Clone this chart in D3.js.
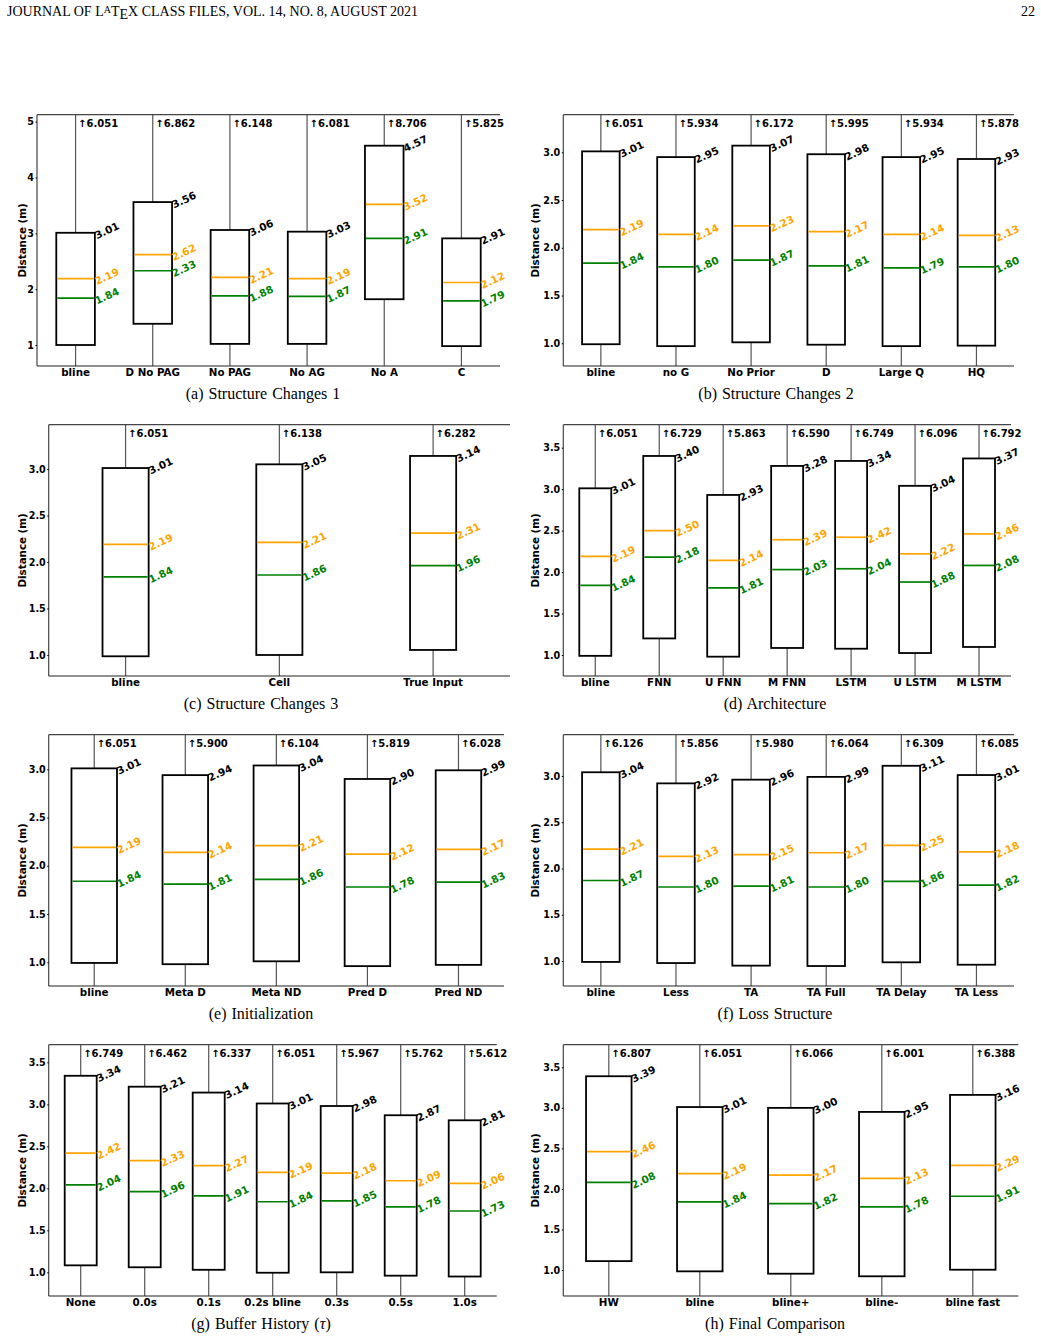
<!DOCTYPE html>
<html>
<head>
<meta charset="utf-8">
<title>Distance box plots</title>
<style>
  body { margin: 0; background: #fff; }
  svg text { font-family: "DejaVu Sans", sans-serif; }
  .cap, .hdr { font-family: "Liberation Serif", "Times New Roman", serif; }
</style>
</head>
<body>
<script src="https://d3js.org/d3.v7.min.js"></script>
<script>
// ---- data ----
// orange line = mean, green line = median, q3 = box top, q1 = box bottom, max = upper whisker
const aLabels = ["bline", "D No PAG", "No PAG", "No AG", "No A", "C"];
const aQ1     = [1.00, 1.38, 1.02, 1.02, 1.82, 0.98];
const aQ3     = [3.01, 3.56, 3.06, 3.03, 4.57, 2.91];
const aMean   = [2.19, 2.62, 2.21, 2.19, 3.52, 2.12];
const aMedian = [1.84, 2.33, 1.88, 1.87, 2.91, 1.79];
const aMax    = [6.051, 6.862, 6.148, 6.081, 8.706, 5.825];

const bLabels = ["bline", "no G", "No Prior", "D", "Large Q", "HQ"];
const bQ1     = [0.99, 0.97, 1.01, 0.985, 0.97, 0.975];
const bQ3     = [3.01, 2.95, 3.07, 2.98, 2.95, 2.93];
const bMean   = [2.19, 2.14, 2.23, 2.17, 2.14, 2.13];
const bMedian = [1.84, 1.80, 1.87, 1.81, 1.79, 1.80];
const bMax    = [6.051, 5.934, 6.172, 5.995, 5.934, 5.878];

const cLabels = ["bline", "Cell", "True Input"];
const cQ1     = [0.986, 1.00, 1.054];
const cQ3     = [3.01, 3.05, 3.14];
const cMean   = [2.19, 2.21, 2.31];
const cMedian = [1.84, 1.86, 1.96];
const cMax    = [6.051, 6.138, 6.282];

const dLabels = ["bline", "FNN", "U FNN", "M FNN", "LSTM", "U LSTM", "M LSTM"];
const dQ1     = [0.99, 1.20, 0.98, 1.085, 1.076, 1.024, 1.097];
const dQ3     = [3.01, 3.40, 2.93, 3.28, 3.34, 3.04, 3.37];
const dMean   = [2.19, 2.50, 2.14, 2.39, 2.42, 2.22, 2.46];
const dMedian = [1.84, 2.18, 1.81, 2.03, 2.04, 1.88, 2.08];
const dMax    = [6.051, 6.729, 5.863, 6.590, 6.749, 6.096, 6.792];

const eLabels = ["bline", "Meta D", "Meta ND", "Pred D", "Pred ND"];
const eQ1     = [0.993, 0.98, 1.01, 0.96, 0.973];
const eQ3     = [3.01, 2.94, 3.04, 2.90, 2.99];
const eMean   = [2.19, 2.14, 2.21, 2.12, 2.17];
const eMedian = [1.84, 1.81, 1.86, 1.78, 1.83];
const eMax    = [6.051, 5.900, 6.104, 5.819, 6.028];

const fLabels = ["bline", "Less", "TA", "TA Full", "TA Delay", "TA Less"];
const fQ1     = [0.99, 0.978, 0.95, 0.946, 0.986, 0.96];
const fQ3     = [3.04, 2.92, 2.96, 2.99, 3.11, 3.01];
const fMean   = [2.21, 2.13, 2.15, 2.17, 2.25, 2.18];
const fMedian = [1.87, 1.80, 1.81, 1.80, 1.86, 1.82];
const fMax    = [6.126, 5.856, 5.980, 6.064, 6.309, 6.085];

const gLabels = ["None", "0.0s", "0.1s", "0.2s bline", "0.3s", "0.5s", "1.0s"];
const gQ1     = [1.083, 1.06, 1.03, 0.995, 1.00, 0.96, 0.95];
const gQ3     = [3.34, 3.21, 3.14, 3.01, 2.98, 2.87, 2.81];
const gMean   = [2.42, 2.33, 2.27, 2.19, 2.18, 2.09, 2.06];
const gMedian = [2.04, 1.96, 1.91, 1.84, 1.85, 1.78, 1.73];
const gMax    = [6.749, 6.462, 6.337, 6.051, 5.967, 5.762, 5.612];

const hLabels = ["HW", "bline", "bline+", "bline-", "bline fast"];
const hQ1     = [1.11, 0.984, 0.955, 0.923, 1.004];
const hQ3     = [3.39, 3.01, 3.00, 2.95, 3.16];
const hMean   = [2.46, 2.19, 2.17, 2.13, 2.29];
const hMedian = [2.08, 1.84, 1.82, 1.78, 1.91];
const hMax    = [6.807, 6.051, 6.066, 6.001, 6.388];

const ticksInt  = [1, 2, 3, 4, 5];
const ticks30   = [1.0, 1.5, 2.0, 2.5, 3.0];
const ticks35   = [1.0, 1.5, 2.0, 2.5, 3.0, 3.5];

const captions = ["(a) Structure Changes 1", "(b) Structure Changes 2", "(c) Structure Changes 3",
  "(d) Architecture", "(e) Initialization", "(f) Loss Structure", "(g) Buffer History (", "(h) Final Comparison"];

// ---- layout ----
const W = 1041, H = 1339;
const svg = d3.select("body").append("svg").attr("width", W).attr("height", H);

// header
const hdr = svg.append("text").attr("class", "hdr").attr("x", 7).attr("y", 16).style("font-size", "14px");
hdr.append("tspan").text("JOURNAL OF L");
hdr.append("tspan").attr("dy", -3).style("font-size", "10px").text("A");
hdr.append("tspan").attr("dy", 3).text("T");
hdr.append("tspan").attr("dy", 3).text("E");
hdr.append("tspan").attr("dy", -3).text("X CLASS FILES, VOL. 14, NO. 8, AUGUST 2021");
svg.append("text").attr("class", "hdr").attr("x", 1035).attr("y", 16)
  .attr("text-anchor", "end").style("font-size", "14px").text("22");

const rows = [{top: 114.7, bottom: 366}, {top: 424.7, bottom: 676}, {top: 734.7, bottom: 986}, {top: 1044.7, bottom: 1296}];

const panels = [
  {labels: aLabels, q1: aQ1, q3: aQ3, mean: aMean, median: aMedian, max: aMax, row: 0, left: 37,    right: 500,    dom: [0.624, 5.125], ticks: ticksInt, fmt: d3.format("d"),   capX: 263},
  {labels: bLabels, q1: bQ1, q3: bQ3, mean: bMean, median: bMedian, max: bMax, row: 0, left: 563.3, right: 1014,   dom: [0.762, 3.394], ticks: ticks30,  fmt: d3.format(".1f"), capX: 776},
  {labels: cLabels, q1: cQ1, q3: cQ3, mean: cMean, median: cMedian, max: cMax, row: 1, left: 48.7,  right: 510,    dom: [0.774, 3.476], ticks: ticks30,  fmt: d3.format(".1f"), capX: 261},
  {labels: dLabels, q1: dQ1, q3: dQ3, mean: dMean, median: dMedian, max: dMax, row: 1, left: 563.3, right: 1011,   dom: [0.747, 3.777], ticks: ticks35,  fmt: d3.format(".1f"), capX: 775},
  {labels: eLabels, q1: eQ1, q3: eQ3, mean: eMean, median: eMedian, max: eMax, row: 2, left: 48.7,  right: 504,    dom: [0.754, 3.359], ticks: ticks30,  fmt: d3.format(".1f"), capX: 261},
  {labels: fLabels, q1: fQ1, q3: fQ3, mean: fMean, median: fMedian, max: fMax, row: 2, left: 563.3, right: 1014,   dom: [0.730, 3.446], ticks: ticks30,  fmt: d3.format(".1f"), capX: 775},
  {labels: gLabels, q1: gQ1, q3: gQ3, mean: gMean, median: gMedian, max: gMax, row: 3, left: 48.7,  right: 496.7,  dom: [0.718, 3.710], ticks: ticks35,  fmt: d3.format(".1f"), capX: 261},
  {labels: hLabels, q1: hQ1, q3: hQ3, mean: hMean, median: hMedian, max: hMax, row: 3, left: 563.3, right: 1018.3, dom: [0.680, 3.779], ticks: ticks35,  fmt: d3.format(".1f"), capX: 775}
];

const ORANGE = "#ffa500", GREEN = "#008000";

panels.forEach(function (p, i) {
  const top = rows[p.row].top, bottom = rows[p.row].bottom;
  const g = svg.append("g");

  const x = d3.scaleBand().domain(p.labels).range([p.left, p.right]);
  const y = d3.scaleLinear().domain(p.dom).range([bottom, top]);
  const n = p.labels.length;
  const bw = x.step() * Math.max(0.15, Math.min(0.5, 0.15 * (n - 1)));
  const cx = d => x(d) + x.bandwidth() / 2;

  const clipId = "clip" + i;
  svg.append("clipPath").attr("id", clipId).append("rect")
    .attr("x", p.left).attr("y", top).attr("width", p.right - p.left).attr("height", bottom - top);

  const rowsData = p.labels.map((l, k) => ({l: l, q1: p.q1[k], q3: p.q3[k], mean: p.mean[k], med: p.median[k], max: p.max[k]}));

  const plot = g.append("g").attr("clip-path", "url(#" + clipId + ")");

  // whiskers
  plot.selectAll(".wh-up").data(rowsData).join("line")
    .attr("x1", d => cx(d.l)).attr("x2", d => cx(d.l))
    .attr("y1", d => y(d.q3)).attr("y2", d => y(d.max))
    .attr("stroke", "#555").attr("stroke-width", 1.2);
  plot.selectAll(".wh-dn").data(rowsData).join("line")
    .attr("x1", d => cx(d.l)).attr("x2", d => cx(d.l))
    .attr("y1", d => y(d.q1)).attr("y2", bottom)
    .attr("stroke", "#555").attr("stroke-width", 1.2);

  // boxes
  plot.selectAll(".box").data(rowsData).join("rect")
    .attr("x", d => cx(d.l) - bw / 2).attr("width", bw)
    .attr("y", d => y(d.q3)).attr("height", d => y(d.q1) - y(d.q3))
    .attr("fill", "#fff").attr("stroke", "#000").attr("stroke-width", 1.8);

  plot.selectAll(".mean").data(rowsData).join("line")
    .attr("x1", d => cx(d.l) - bw / 2 + 1).attr("x2", d => cx(d.l) + bw / 2 - 1)
    .attr("y1", d => y(d.mean)).attr("y2", d => y(d.mean))
    .attr("stroke", ORANGE).attr("stroke-width", 1.7);
  plot.selectAll(".median").data(rowsData).join("line")
    .attr("x1", d => cx(d.l) - bw / 2 + 1).attr("x2", d => cx(d.l) + bw / 2 - 1)
    .attr("y1", d => y(d.med)).attr("y2", d => y(d.med))
    .attr("stroke", GREEN).attr("stroke-width", 1.7);

  // rotated value labels
  const valLab = function (key, color) {
    g.selectAll(".v-" + key).data(rowsData).join("text")
      .attr("transform", d => `translate(${cx(d.l) + bw / 2 + 2},${y(d[key]) + 6.5}) rotate(-25)`)
      .attr("fill", color).style("font-size", "10.3px").style("font-weight", "bold")
      .text(d => d[key].toFixed(2));
  };
  valLab("q3", "#000");
  valLab("mean", ORANGE);
  valLab("med", GREEN);

  // max labels
  g.selectAll(".mx").data(rowsData).join("text")
    .attr("x", d => cx(d.l) + 2.5).attr("y", top + 12.3)
    .style("font-size", "10px").style("font-weight", "bold")
    .text(d => "\u2191" + d.max.toFixed(3));

  // spines
  g.append("line").attr("x1", p.left).attr("x2", p.left).attr("y1", top).attr("y2", bottom)
    .attr("stroke", "#444").attr("stroke-width", 1.2);
  g.append("line").attr("x1", p.left).attr("x2", p.right).attr("y1", top).attr("y2", top)
    .attr("stroke", "#444").attr("stroke-width", 1.2);
  g.append("line").attr("x1", p.left).attr("x2", p.right).attr("y1", bottom).attr("y2", bottom)
    .attr("stroke", "#222").attr("stroke-width", 1.2);

  // y axis
  const yAxis = d3.axisLeft(y).tickValues(p.ticks).tickFormat(p.fmt).tickSize(1.5).tickPadding(1.5);
  const ya = g.append("g").attr("transform", `translate(${p.left},0)`).call(yAxis);
  ya.select(".domain").remove();
  ya.selectAll("text").style("font-size", "9.6px").style("font-weight", "bold")
    .style("font-family", "DejaVu Sans").attr("fill", "#000");

  // x axis labels
  const xAxis = d3.axisBottom(x).tickSize(0).tickPadding(3);
  const xa = g.append("g").attr("transform", `translate(0,${bottom})`).call(xAxis);
  xa.select(".domain").remove();
  xa.selectAll("text").style("font-size", "10.3px").style("font-weight", "bold")
    .style("font-family", "DejaVu Sans").attr("fill", "#000");

  // y label
  g.append("text")
    .attr("transform", `translate(${p.left < 100 ? 25.5 : 539},${(top + bottom) / 2}) rotate(-90)`)
    .attr("text-anchor", "middle").style("font-size", "10.3px").style("font-weight", "bold")
    .text("Distance (m)");

  // caption
  const cap = g.append("text").attr("class", "cap").attr("x", p.capX).attr("y", bottom + 33)
    .attr("text-anchor", "middle").style("font-size", "16px").style("word-spacing", "1px")
    .text(captions[i]);
  if (i === 6) {
    cap.append("tspan").style("font-style", "italic").text("\u03c4");
    cap.append("tspan").text(")");
  }
});
</script>
</body>
</html>
